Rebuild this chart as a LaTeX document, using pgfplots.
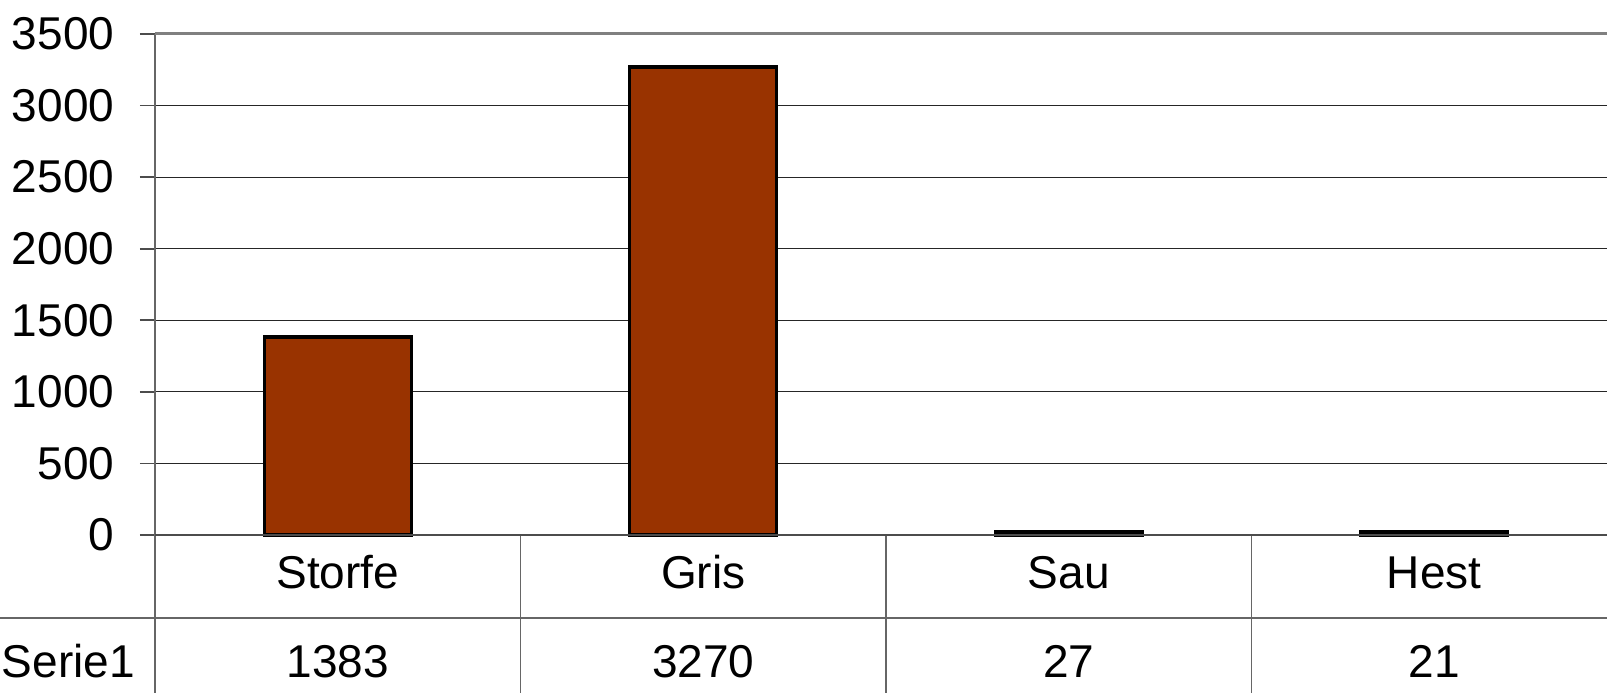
\documentclass[border=0pt]{standalone}
\usepackage{fontspec}
\setmainfont{Liberation Sans}
\usepackage{pgfplots}
\pgfplotsset{compat=1.18}
\usepackage{pgfplotstable}
\definecolor{barfill}{HTML}{993300}
\pgfplotstableread{
x name value
0 Storfe 1383
1 Gris 3270
2 Sau 27
3 Hest 21
}\datatable
\begin{document}
\fontsize{11.5}{14}\selectfont
\begin{tikzpicture}
\begin{axis}[
  at={(0,0)}, anchor=south west,
  scale only axis, width=365.5pt, height=125.25pt,
  xmin=-0.5, xmax=3.5, ymin=0, ymax=3500,
  ytick={0,500,...,3500},
  xtick=data,
  xticklabels from table={\datatable}{name},
  extra x ticks={0,1,2,3},
  extra x tick labels={1383,3270,27,21},
  extra x tick style={major tick length=0pt, xticklabel style={yshift=-25.85pt}},
  axis line style={draw=none},
  ymajorgrids, grid style={black!85, line width=0.3pt},
  tick align=outside, major tick length=3.75pt,
  y tick style={black!70, line width=0.4pt},
  x tick style={draw=none},
  xticklabel style={anchor=base, inner sep=0pt, yshift=-9.75pt},
  yticklabel style={anchor=east, inner sep=0pt, xshift=-6.25pt},
  /pgf/number format/assume math mode=true,
  /pgf/number format/1000 sep={},
  ybar, bar width=36.75pt,
  clip=false,
]
\addplot[fill=barfill, draw=black, line width=0.8pt] table[x=x, y=value] {\datatable};
\end{axis}
\foreach \xx in {91.375pt,182.75pt,274.125pt,365.5pt}{
  \draw[black!60, line width=0.35pt] (\xx,0) -- (\xx,-39.5pt);
}
\draw[black!60, line width=0.35pt] (-38.75pt,-20.75pt) -- (365.5pt,-20.75pt);
\draw[black!60, line width=0.5pt] (0,125.25pt) -- (0,-39.5pt);
\draw[black!70, line width=0.5pt] (0,0) -- (365.5pt,0);
\draw[gray, line width=0.75pt] (0,125.25pt) -- (365.5pt,125.25pt);
\node[anchor=base west, inner sep=0pt] at (-38.5pt,-35.6pt) {Serie1};
\pgfresetboundingbox
\useasboundingbox (-38.75pt,-39.5pt) rectangle (363pt,133.75pt);
\end{tikzpicture}
\end{document}
